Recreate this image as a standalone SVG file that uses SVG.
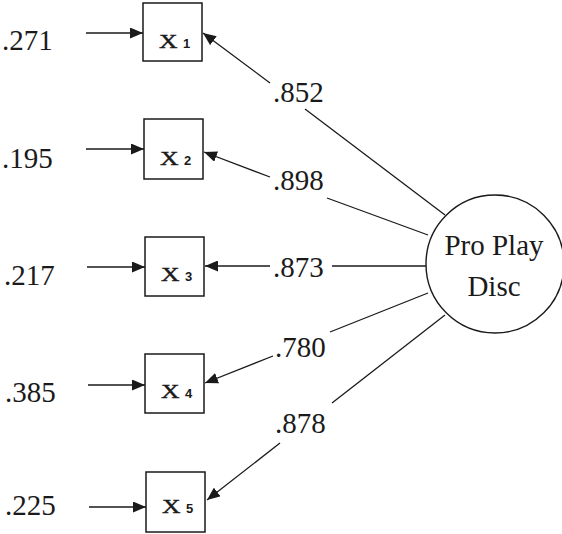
<svg xmlns="http://www.w3.org/2000/svg" width="562" height="534" viewBox="0 0 562 534">
<style>
.lbl{font-family:"Liberation Serif","Times New Roman",serif;font-size:29px;fill:#1a1a1a}
.box{fill:#fff;stroke:#1a1a1a;stroke-width:1.5}
.ln{stroke:#1a1a1a;stroke-width:1.3;fill:none}
.arr{marker-end:url(#ah)}
.xv{font-family:"Liberation Serif","Times New Roman",serif;font-size:19px;fill:#1a1a1a;stroke:#1a1a1a;stroke-width:0.4}
.sub{font-family:"Liberation Sans",Arial,sans-serif;font-size:13px;font-weight:bold;fill:#1a1a1a}
</style>
<defs>
<marker id="ah" viewBox="0 0 13 11" refX="13" refY="5.5" markerWidth="13" markerHeight="11" markerUnits="userSpaceOnUse" orient="auto">
<path d="M0,0 L13,5.5 L0,11 z" fill="#1a1a1a"/>
</marker>
</defs>
<rect width="562" height="534" fill="#fff"/>
<g id="connectors">
<line class="ln arr" x1="86" y1="33" x2="143" y2="33"/>
<line class="ln arr" x1="86" y1="149" x2="144" y2="149"/>
<line class="ln arr" x1="87" y1="267" x2="145" y2="267"/>
<line class="ln arr" x1="88" y1="385" x2="145" y2="385"/>
<line class="ln arr" x1="89" y1="507" x2="146" y2="507"/>
<line class="ln arr" x1="270" y1="83" x2="203" y2="33"/>
<line class="ln" x1="305" y1="109" x2="445" y2="215"/>
<line class="ln arr" x1="270" y1="177" x2="204" y2="152"/>
<line class="ln" x1="327" y1="198" x2="428" y2="235"/>
<line class="ln arr" x1="270" y1="266" x2="205" y2="266"/>
<line class="ln" x1="332" y1="266" x2="426" y2="266"/>
<line class="ln arr" x1="273" y1="356" x2="205" y2="383"/>
<line class="ln" x1="330" y1="332" x2="428" y2="293"/>
<line class="ln arr" x1="280" y1="443" x2="207" y2="500"/>
<line class="ln" x1="332" y1="403" x2="445" y2="315"/>
</g>
<g id="e1"><text class="lbl" x="2" y="50">.271</text></g>
<g id="e2"><text class="lbl" x="2" y="168">.195</text></g>
<g id="e3"><text class="lbl" x="4" y="285">.217</text></g>
<g id="e4"><text class="lbl" x="5" y="402">.385</text></g>
<g id="e5"><text class="lbl" x="5" y="515">.225</text></g>
<g id="x1"><rect class="box" x="143" y="3" width="59" height="58"/><text class="xv" transform="translate(159,48) scale(1.35,1)">X</text><text class="sub" x="183" y="48">1</text></g>
<g id="x2"><rect class="box" x="144" y="119" width="59" height="60"/><text class="xv" transform="translate(160,165) scale(1.35,1)">X</text><text class="sub" x="184" y="165">2</text></g>
<g id="x3"><rect class="box" x="145" y="237" width="59" height="59"/><text class="xv" transform="translate(161,281) scale(1.35,1)">X</text><text class="sub" x="185" y="281">3</text></g>
<g id="x4"><rect class="box" x="145" y="354" width="59" height="59"/><text class="xv" transform="translate(161,398) scale(1.35,1)">X</text><text class="sub" x="185" y="398">4</text></g>
<g id="x5"><rect class="box" x="146" y="472" width="59" height="60"/><text class="xv" transform="translate(162,513) scale(1.35,1)">X</text><text class="sub" x="186" y="513">5</text></g>
<g id="loadings">
<text class="lbl" x="273" y="102">.852</text>
<text class="lbl" x="273" y="190">.898</text>
<text class="lbl" x="273" y="277">.873</text>
<text class="lbl" x="275" y="357">.780</text>
<text class="lbl" x="275" y="433">.878</text>
</g>
<g id="propaydisc">
<ellipse cx="495" cy="264" rx="69" ry="69" fill="#fff" stroke="#1a1a1a" stroke-width="1.4"/>
<text class="lbl" x="494" y="255" text-anchor="middle" font-size="30">Pro Play</text>
<text class="lbl" x="494" y="296" text-anchor="middle">Disc</text>
</g>
</svg>
